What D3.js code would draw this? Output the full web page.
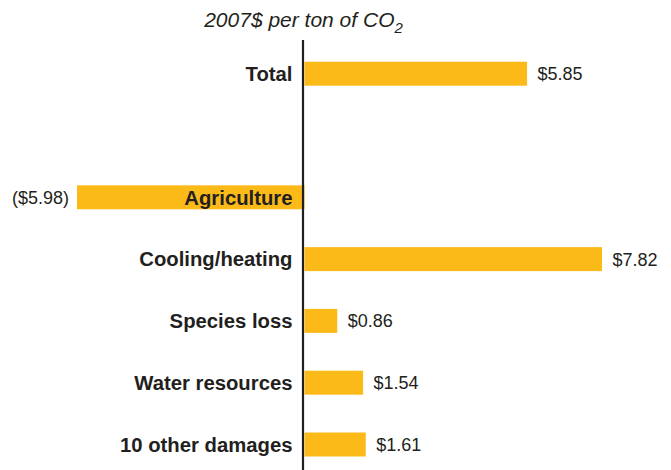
<!DOCTYPE html>
<html>
<head>
<meta charset="utf-8">
<script src="https://cdn.jsdelivr.net/npm/d3@7"></script>
<style>
  html, body { margin: 0; padding: 0; background: #fff; }
  svg { display: block; }
  text { font-family: "Liberation Sans", Arial, Helvetica, sans-serif; fill: #231f20; }
</style>
</head>
<body>
<svg id="chart" width="671" height="470"></svg>
<script>
// Data
const categories = ["Total", "", "Agriculture", "Cooling/heating", "Species loss", "Water resources", "10 other damages"];
const values = [5.85, null, -5.98, 7.82, 0.86, 1.54, 1.61];
const titleMain = "2007$ per ton of CO";
const titleSub = "2";

const W = 671, H = 470;
const svg = d3.select("#chart");

const x = d3.scaleLinear().domain([0, 7.82]).range([304.5, 602]);
const y = d3.scaleBand()
  .domain(categories.map((c, i) => i))
  .range([42.8, 475.4])
  .paddingInner(0.612)
  .paddingOuter(0.306);

const rows = categories.map((c, i) => ({ cat: c, v: values[i], i }))
  .filter(d => d.v !== null);

const fmt = v => v < 0 ? "($" + d3.format(".2f")(-v) + ")" : "$" + d3.format(".2f")(v);

// Bars
svg.append("g").selectAll("rect").data(rows).join("rect")
  .attr("x", d => Math.min(x(0), x(d.v)))
  .attr("width", d => Math.abs(x(d.v) - x(0)))
  .attr("y", d => y(d.i))
  .attr("height", y.bandwidth())
  .attr("fill", "#fcba19");

// Axis line
svg.append("line")
  .attr("x1", x(0) - 1.5).attr("x2", x(0) - 1.5)
  .attr("y1", 40).attr("y2", H)
  .attr("stroke", "#231f20").attr("stroke-width", 2.2);

// Category labels
svg.append("g").selectAll("text").data(rows).join("text")
  .attr("x", 292.5)
  .attr("y", d => y(d.i) + y.bandwidth() / 2)
  .attr("dy", "0.36em")
  .attr("text-anchor", "end")
  .style("font-weight", "bold")
  .style("font-size", "20.3px")
  .text(d => d.cat);

// Value labels
svg.append("g").selectAll("text").data(rows).join("text")
  .attr("x", d => d.v < 0 ? x(d.v) - 8 : x(d.v) + 10.5)
  .attr("y", d => y(d.i) + y.bandwidth() / 2)
  .attr("dy", "0.36em")
  .attr("text-anchor", d => d.v < 0 ? "end" : "start")
  .style("font-size", "18px")
  .text(d => fmt(d.v));

// Title
const t = svg.append("text")
  .attr("x", x(0) - 1)
  .attr("y", 27)
  .attr("text-anchor", "middle")
  .style("font-style", "italic")
  .style("font-size", "21px");
t.append("tspan").text(titleMain);
t.append("tspan").attr("dy", 6).style("font-size", "15px").text(titleSub);
</script>
</body>
</html>
